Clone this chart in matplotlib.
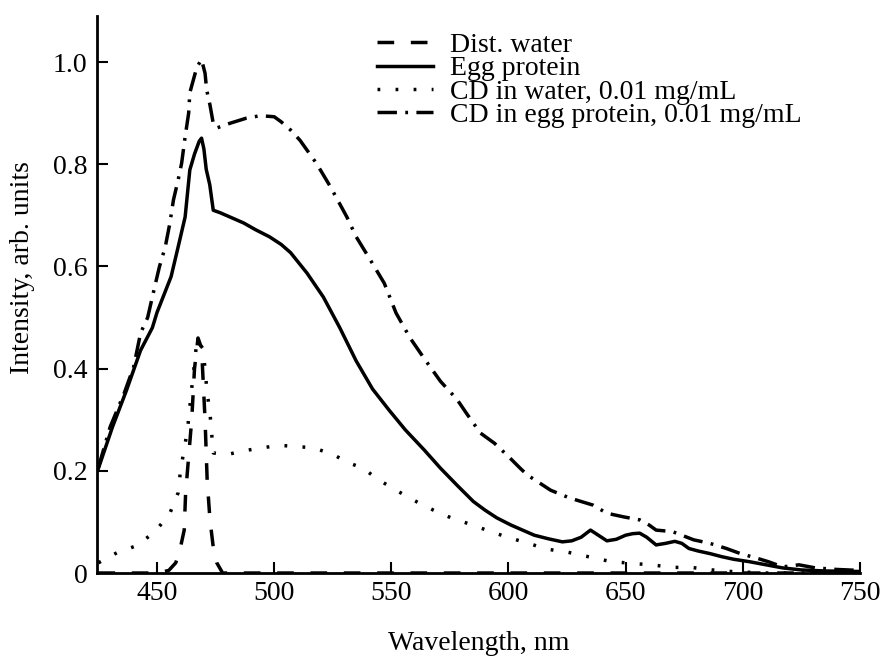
import matplotlib
matplotlib.use("Agg")
import matplotlib.pyplot as plt

# Dist. water
water_wl = [425, 450, 455, 458, 460, 461.6, 462.2, 464.8, 466, 467.5, 469, 470.5, 471.4,
            472.6, 474.3, 475.5, 478, 500, 750]
water_int = [0, 0, 0.005, 0.02, 0.05, 0.084, 0.156, 0.30, 0.40, 0.46, 0.44, 0.30, 0.182,
             0.104, 0.039, 0.02, 0, 0, 0]

# Egg protein
egg_wl = [425, 431, 437, 443, 448, 450, 453, 456, 459, 462, 464, 466, 468, 469, 470, 471,
          472.5, 474, 477, 481, 487, 492, 498, 503, 507, 514, 521, 528, 535, 542, 549, 556,
          564, 571, 578, 585, 590, 595, 601, 606, 611, 617, 623, 627, 631, 635, 638, 642,
          646, 650, 653, 656, 659, 663, 667, 671, 674, 677, 681, 686, 691, 696, 703, 710,
          717, 725, 735, 750]
egg_int = [0.205, 0.286, 0.358, 0.436, 0.48, 0.51, 0.545, 0.58, 0.638, 0.697, 0.789, 0.82,
           0.845, 0.851, 0.83, 0.79, 0.76, 0.71, 0.705, 0.697, 0.685, 0.672, 0.658, 0.643,
           0.627, 0.587, 0.54, 0.48, 0.415, 0.36, 0.319, 0.28, 0.241, 0.205, 0.172, 0.14,
           0.123, 0.108, 0.094, 0.084, 0.074, 0.067, 0.061, 0.063, 0.07, 0.084, 0.075,
           0.063, 0.066, 0.074, 0.077, 0.078, 0.07, 0.055, 0.058, 0.062, 0.058, 0.048,
           0.043, 0.038, 0.032, 0.027, 0.022, 0.016, 0.01, 0.006, 0.004, 0.003]

# CD in water, 0.01 mg/mL
cdw_wl = [425, 433, 441, 449, 455.5, 459, 460, 463, 464, 465, 466, 467, 469.5, 470.5, 471.3,
          472.6, 474, 480, 488, 495, 502, 511, 517, 526, 531, 538, 544, 552, 561, 568, 576,
          584, 593, 601, 608, 616, 625, 635, 643, 652, 661, 670, 678, 687, 695, 710, 750]
cdw_int = [0.02, 0.04, 0.053, 0.08, 0.117, 0.157, 0.2, 0.28, 0.325, 0.37, 0.41, 0.455, 0.44,
           0.40, 0.356, 0.313, 0.235, 0.232, 0.24, 0.245, 0.25, 0.247, 0.245, 0.23, 0.217,
           0.205, 0.184, 0.162, 0.139, 0.123, 0.107, 0.095, 0.08, 0.068, 0.059, 0.047, 0.041,
           0.031, 0.023, 0.019, 0.016, 0.011, 0.011, 0.006, 0.003, 0.0, 0.0]

# CD in egg protein, 0.01 mg/mL
cde_wl = [425, 430, 436, 440, 443, 446, 449, 451, 453.5, 455.5, 457, 459, 460.5, 462, 463.5,
          464, 465.5, 467, 469, 470.5, 471.2, 472.6, 474, 475.5, 478, 481, 488, 494, 500,
          503, 507, 511, 518, 524, 531, 535, 541, 547, 552, 558, 564, 571, 578, 582, 588,
          594, 600, 605, 608, 618, 626, 631, 636, 642, 649, 656, 660, 663, 670, 679, 686,
          693, 699, 706, 711, 717, 724, 731, 740, 750]
cde_int = [0.207, 0.286, 0.352, 0.403, 0.47, 0.5, 0.56, 0.599, 0.638, 0.685, 0.73, 0.769,
           0.802, 0.854, 0.9, 0.94, 0.965, 0.99, 1.005, 0.978, 0.945, 0.916, 0.88, 0.871,
           0.875, 0.88, 0.89, 0.895, 0.893, 0.883, 0.867, 0.847, 0.802, 0.756, 0.697, 0.658,
           0.613, 0.567, 0.509, 0.46, 0.42, 0.375, 0.34, 0.313, 0.274, 0.254, 0.228, 0.205,
           0.192, 0.162, 0.147, 0.14, 0.133, 0.117, 0.11, 0.104, 0.094, 0.084, 0.081, 0.065,
           0.058, 0.048, 0.038, 0.029, 0.022, 0.012, 0.016, 0.01, 0.007, 0.005]

x_ticks = [450, 500, 550, 600, 650, 700, 750]
y_ticks = [0, 0.2, 0.4, 0.6, 0.8, 1.0]
y_tick_labels = ["0", "0.2", "0.4", "0.6", "0.8", "1.0"]

plt.rcParams["font.family"] = ["Liberation Serif", "DejaVu Serif"]
plt.rcParams["lines.scale_dashes"] = False

fs = 20
fig = plt.figure(figsize=(8.83, 6.56), dpi=100)
ax = fig.add_axes([0.1099, 0.1265, 0.864, 0.849])

lw = 2.5
ax.plot(water_wl, water_int, color="black", lw=lw, linestyle=(0, (12, 12)), label="Dist. water")
ax.plot(egg_wl, egg_int, color="black", lw=lw, linestyle="-", label="Egg protein")
ax.plot(cdw_wl, cdw_int, color="black", lw=lw, linestyle=(0, (2, 11)),
        label="CD in water, 0.01 mg/mL")
ax.plot(cde_wl, cde_int, color="black", lw=lw, linestyle=(0, (14, 6, 2, 6)),
        label="CD in egg protein, 0.01 mg/mL")

ax.set_xlim(424.4, 750)
ax.set_ylim(0, 1.09)
ax.set_xticks(x_ticks)
ax.set_yticks(y_ticks)
ax.set_yticklabels(y_tick_labels)
ax.tick_params(direction="in", length=8, width=1.5, labelsize=fs)
ax.tick_params(axis="x", pad=6)
ax.tick_params(axis="y", pad=7)

for side in ["top", "right"]:
    ax.spines[side].set_visible(False)
for side in ["left", "bottom"]:
    ax.spines[side].set_linewidth(2)

ax.set_xlabel("Wavelength, nm", fontsize=fs, labelpad=18)
ax.set_ylabel("Intensity, arb. units", fontsize=fs)
ax.yaxis.set_label_coords(-0.081, 0.548)

ax.legend(loc="upper left", bbox_to_anchor=(0.3455, 1.0), frameon=False, fontsize=fs,
          handlelength=2.0, handletextpad=0.6, labelspacing=-0.08, borderaxespad=0.2)

fig.savefig("out.png", dpi=100)
